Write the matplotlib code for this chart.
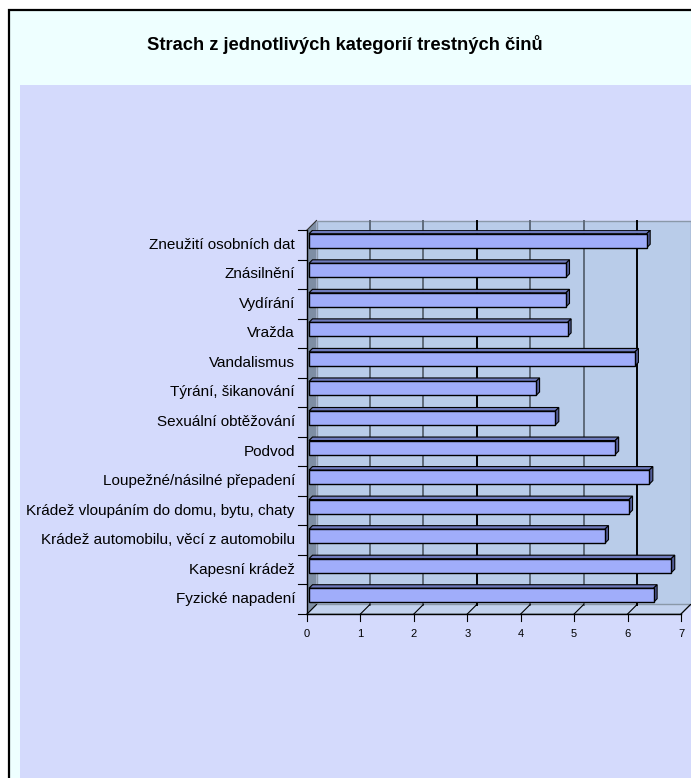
import matplotlib
matplotlib.use("Agg")
import matplotlib.pyplot as plt
from matplotlib.patches import Rectangle, Polygon

plt.rcParams["font.family"] = ["Liberation Sans", "DejaVu Sans"]

categories = [
    "Fyzické napadení",
    "Kapesní krádež",
    "Krádež automobilu, věcí z automobilu",
    "Krádež vloupáním do domu, bytu, chaty",
    "Loupežné/násilné přepadení",
    "Podvod",
    "Sexuální obtěžování",
    "Týrání, šikanování",
    "Vandalismus",
    "Vražda",
    "Vydírání",
    "Znásilnění",
    "Zneužití osobních dat",
]
values = [6.45, 6.78, 5.54, 5.99, 6.37, 5.73, 4.61, 4.25, 6.10, 4.84, 4.81, 4.81, 6.32]
xticks = [0, 1, 2, 3, 4, 5, 6, 7]
title = "Strach z jednotlivých kategorií trestných činů"

W, H = 691, 778
fig = plt.figure(figsize=(W / 100, H / 100), dpi=100)
fig.patch.set_facecolor("white")

# chart area frame and plot area background (pixel -> figure fraction)
def fr(x0, y0, x1, y1):
    return (x0 / W, 1 - y1 / H), (x1 - x0) / W, (y1 - y0) / H

xy, w, h = fr(9, 10, W + 5, H + 5)
fig.add_artist(Rectangle(xy, w, h, transform=fig.transFigure, zorder=-10,
                         facecolor="#eeffff", edgecolor="black", lw=1.6))
xy, w, h = fr(20, 85, W + 5, H + 5)
fig.add_artist(Rectangle(xy, w, h, transform=fig.transFigure, zorder=-9,
                         facecolor="#d4dafc", edgecolor="none"))

fig.text(345 / W, 1 - 44 / H, title, ha="center", va="center",
         fontsize=13.2, fontweight="bold")

# front rectangle of the 3d plot: x 307..681 px, y 230..614 px
ax = fig.add_axes([307 / W, 1 - 614 / H, 374 / W, 384 / H])
ax.set_xlim(0, 7)
ax.set_ylim(-0.5, len(categories) - 0.5)
ax.axis("off")

px_x = 7 / 374
px_y = len(categories) / 384
dx, dy = 9.5 * px_x, 9.5 * px_y
top = len(categories) - 0.5
bot = -0.5

# walls
ax.add_patch(Polygon([(dx, bot + dy), (7 + dx, bot + dy), (7 + dx, top + dy), (dx, top + dy)],
                     closed=True, facecolor="#b9cce9", edgecolor="#8a98a8", lw=1, clip_on=False, zorder=1))
ax.add_patch(Polygon([(0, bot), (dx, bot + dy), (dx, top + dy), (0, top)],
                     closed=True, facecolor="#7e8ea4", edgecolor="none", clip_on=False, zorder=1))
ax.add_patch(Polygon([(0, bot), (7, bot), (7 + dx, bot + dy), (dx, bot + dy)],
                     closed=True, facecolor="#c3d2ee", edgecolor="#8a98a8", lw=1, clip_on=False, zorder=1))

# gridlines on back wall and floor
for t in xticks:
    col = "black" if t in (3, 6) else "#5f6b7a"
    if 0 < t < 7:
        ax.plot([t + dx, t + dx], [bot + dy, top + dy], color=col, lw=1.4, clip_on=False, zorder=2)
    ax.plot([t, t + dx], [bot, bot + dy], color="black", lw=0.8, clip_on=False, zorder=2)
    ax.plot([t, t], [bot, bot - 7 * px_y], color="black", lw=0.8, clip_on=False, zorder=2)
    ax.text(t, bot - 20 * px_y, str(t), ha="center", va="center", fontsize=8)

# axes lines
ax.plot([0, 7], [bot, bot], color="black", lw=1, clip_on=False, zorder=3)
ax.plot([0, 0], [bot, top], color="black", lw=1, clip_on=False, zorder=3)
ax.plot([0, dx], [top, top + dy], color="#333333", lw=0.8, clip_on=False, zorder=3)
for i in range(len(categories) + 1):
    ax.plot([-9 * px_x, 0], [i - 0.5, i - 0.5], color="black", lw=0.8, clip_on=False, zorder=3)

# 3d bars
bh = 14 * px_y
ox, oy = 2 * px_x, 4 * px_y
tx, ty = 3.5 * px_x, 3.5 * px_y
for i, (name, v) in enumerate(zip(categories, values)):
    x0, x1 = ox, ox + v
    y0, y1 = i + oy - bh / 2, i + oy + bh / 2
    ax.add_patch(Polygon([(x0, y1), (x1, y1), (x1 + tx, y1 + ty), (x0 + tx, y1 + ty)],
                         closed=True, facecolor="#6f7bbd", edgecolor="black", lw=0.8, zorder=4))
    ax.add_patch(Polygon([(x1, y0), (x1 + tx, y0 + ty), (x1 + tx, y1 + ty), (x1, y1)],
                         closed=True, facecolor="#535d98", edgecolor="black", lw=0.8, zorder=4))
    ax.add_patch(Rectangle((x0, y0), v, bh, facecolor="#a0adfa", edgecolor="black", lw=1, zorder=5))
    ax.text(-12 * px_x, i, name, ha="right", va="center", fontsize=11)

fig.savefig("out.png", dpi=100)
